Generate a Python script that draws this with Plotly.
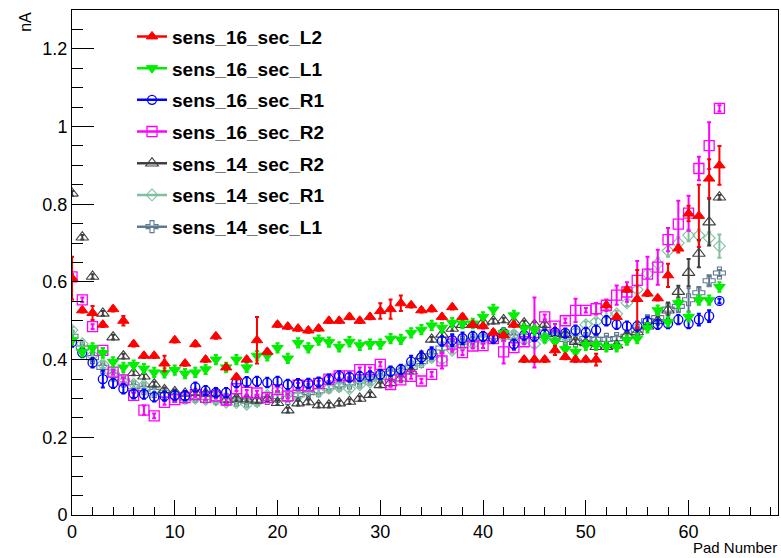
import plotly.graph_objects as go

pads = list(range(64))

# sens_16_sec_L2
l2_16 = [0.61, 0.527, 0.52, 0.49, 0.53, 0.50, 0.44, 0.41, 0.41, 0.39,
         0.45, 0.39, 0.44, 0.40, 0.46, 0.38, 0.355, 0.40, 0.45, 0.42,
         0.49, 0.485, 0.48, 0.475, 0.48, 0.50, 0.50, 0.51, 0.50, 0.51,
         0.525, 0.53, 0.545, 0.54, 0.527, 0.53, 0.51, 0.535, 0.51, 0.49,
         0.486, 0.47, 0.463, 0.49, 0.40, 0.40, 0.40, 0.424, 0.407, 0.40,
         0.40, 0.40, 0.54, 0.51, 0.58, 0.556, 0.57, 0.558, 0.617, 0.686,
         0.776, 0.77, 0.866, 0.90]
l2_16_err = [0.055, 0.006, 0.018, 0.006, 0.006, 0.012, 0.006, 0.006, 0.006, 0.02,
             0.006, 0.006, 0.006, 0.006, 0.006, 0.006, 0.006, 0.006, 0.06, 0.006,
             0.006, 0.006, 0.006, 0.006, 0.006, 0.006, 0.006, 0.006, 0.006, 0.006,
             0.02, 0.025, 0.02, 0.006, 0.006, 0.006, 0.006, 0.006, 0.006, 0.006,
             0.006, 0.006, 0.006, 0.006, 0.006, 0.006, 0.006, 0.012, 0.006, 0.006,
             0.006, 0.015, 0.006, 0.006, 0.006, 0.075, 0.006, 0.006, 0.03, 0.01,
             0.02, 0.08, 0.05, 0.05]

# sens_16_sec_L1
l1_16 = [0.45, 0.42, 0.43, 0.417, 0.394, 0.38, 0.386, 0.377, 0.367, 0.366,
         0.373, 0.364, 0.367, 0.375, 0.40, 0.38, 0.40, 0.38, 0.41, 0.41,
         0.43, 0.403, 0.443, 0.43, 0.45, 0.445, 0.433, 0.446, 0.437, 0.44,
         0.44, 0.454, 0.452, 0.469, 0.477, 0.488, 0.482, 0.495, 0.493, 0.493,
         0.51, 0.529, 0.468, 0.514, 0.48, 0.476, 0.456, 0.446, 0.427, 0.42,
         0.437, 0.437, 0.433, 0.433, 0.45, 0.454, 0.482, 0.527, 0.497, 0.545,
         0.51, 0.553, 0.553, 0.587]
l1_16_err = [0.012] * 64

# sens_16_sec_R1
r1_16 = [0.445, 0.418, 0.392, 0.35, 0.339, 0.325, 0.312, 0.311, 0.304, 0.306,
         0.308, 0.307, 0.329, 0.32, 0.315, 0.315, 0.341, 0.343, 0.344, 0.341,
         0.344, 0.336, 0.338, 0.339, 0.342, 0.35, 0.358, 0.355, 0.357, 0.358,
         0.362, 0.37, 0.375, 0.395, 0.406, 0.417, 0.448, 0.45, 0.455, 0.46,
         0.46, 0.455, 0.469, 0.44, 0.463, 0.46, 0.465, 0.47, 0.468, 0.476,
         0.47, 0.476, 0.50, 0.491, 0.486, 0.486, 0.497, 0.491, 0.493, 0.503,
         0.493, 0.503, 0.512, 0.551]
r1_16_err = [0.012, 0.012, 0.012, 0.022, 0.012, 0.012, 0.012, 0.012, 0.012, 0.012,
             0.012, 0.012, 0.012, 0.012, 0.012, 0.012, 0.012, 0.012, 0.012, 0.012,
             0.012, 0.012, 0.012, 0.012, 0.012, 0.012, 0.012, 0.012, 0.012, 0.012,
             0.012, 0.012, 0.012, 0.015, 0.015, 0.015, 0.012, 0.015, 0.015, 0.012,
             0.012, 0.012, 0.012, 0.012, 0.012, 0.012, 0.012, 0.012, 0.012, 0.012,
             0.012, 0.012, 0.012, 0.012, 0.012, 0.012, 0.012, 0.012, 0.012, 0.012,
             0.012, 0.015, 0.015, 0.006]

# sens_16_sec_R2
r2_16 = [0.613, 0.554, 0.485, 0.424, 0.368, 0.348, 0.308, 0.27, 0.255, 0.29,
         0.297, 0.302, 0.31, 0.303, 0.306, 0.296, 0.325, 0.316, 0.314, 0.302,
         0.323, 0.306, 0.334, 0.332, 0.339, 0.35, 0.358, 0.358, 0.374, 0.374,
         0.388, 0.336, 0.348, 0.357, 0.345, 0.362, 0.397, 0.44, 0.418, 0.435,
         0.436, 0.454, 0.42, 0.431, 0.446, 0.47, 0.51, 0.486, 0.50, 0.527,
         0.527, 0.531, 0.54, 0.566, 0.574, 0.604, 0.62, 0.638, 0.709, 0.749,
         0.777, 0.892, 0.951, 1.047]
r2_16_err = [0.008, 0.006, 0.006, 0.006, 0.006, 0.006, 0.006, 0.012, 0.006, 0.006,
             0.006, 0.006, 0.006, 0.006, 0.006, 0.012, 0.006, 0.006, 0.006, 0.006,
             0.006, 0.006, 0.006, 0.006, 0.006, 0.006, 0.006, 0.006, 0.006, 0.006,
             0.006, 0.006, 0.006, 0.006, 0.006, 0.006, 0.02, 0.02, 0.006, 0.006,
             0.006, 0.006, 0.03, 0.006, 0.006, 0.09, 0.006, 0.006, 0.006, 0.03,
             0.006, 0.015, 0.015, 0.025, 0.025, 0.05, 0.045, 0.045, 0.03, 0.06,
             0.045, 0.03, 0.06, 0.008]

# sens_14_sec_R2
r2_14 = [0.828, 0.715, 0.614, 0.519, 0.458, 0.409, 0.366, 0.357, 0.337, 0.322,
         0.317, 0.313, 0.315, 0.313, 0.314, 0.296, 0.30, 0.298, 0.295, 0.297,
         0.289, 0.27, 0.288, 0.291, 0.283, 0.283, 0.288, 0.292, 0.30, 0.31,
         0.335, 0.34, 0.352, 0.37, 0.41, 0.452, 0.465, 0.48, 0.49, 0.49,
         0.496, 0.499, 0.502, 0.497, 0.494, 0.49, 0.49, 0.467, 0.465, 0.446,
         0.443, 0.433, 0.433, 0.437, 0.463, 0.471, 0.486, 0.50, 0.527, 0.575,
         0.624, 0.673, 0.754, 0.818]
r2_14_err = [0.006] * 57 + [0.01, 0.02, 0.015, 0.035, 0.035, 0.06, 0.006]

# sens_14_sec_R1
r1_14 = [0.476, 0.441, 0.411, 0.388, 0.366, 0.351, 0.337, 0.334, 0.322, 0.313,
         0.306, 0.30, 0.30, 0.297, 0.296, 0.29, 0.289, 0.285, 0.291, 0.308,
         0.321, 0.312, 0.306, 0.323, 0.317, 0.326, 0.33, 0.325, 0.335, 0.342,
         0.35, 0.368, 0.362, 0.386, 0.392, 0.405, 0.40, 0.424, 0.437, 0.44,
         0.45, 0.455, 0.46, 0.465, 0.45, 0.44, 0.455, 0.469, 0.46, 0.47,
         0.49, 0.498, 0.518, 0.518, 0.546, 0.58, 0.621, 0.647, 0.68, 0.70,
         0.72, 0.72, 0.713, 0.692]
r1_14_err = [0.008] * 56 + [0.012, 0.015, 0.015, 0.015, 0.015, 0.015, 0.015, 0.03]

# sens_14_sec_L1
l1_14 = [0.46, 0.43, 0.405, 0.38, 0.36, 0.345, 0.33, 0.325, 0.318, 0.31,
         0.305, 0.302, 0.305, 0.303, 0.30, 0.298, 0.295, 0.293, 0.296, 0.30,
         0.305, 0.30, 0.31, 0.315, 0.32, 0.33, 0.335, 0.34, 0.345, 0.35,
         0.355, 0.365, 0.37, 0.38, 0.395, 0.41, 0.43, 0.44, 0.445, 0.45,
         0.455, 0.46, 0.462, 0.458, 0.46, 0.462, 0.471, 0.46, 0.452, 0.448,
         0.454, 0.452, 0.452, 0.454, 0.46, 0.476, 0.50, 0.508, 0.53, 0.537,
         0.554, 0.572, 0.603, 0.623]
l1_14_err = [0.008] * 56 + [0.012, 0.012, 0.015, 0.015, 0.03, 0.015, 0.012, 0.008]

series = [
    ("sens_16_sec_L2", l2_16, l2_16_err, "#ff0000", "triangle-up", 1.0, 10),
    ("sens_16_sec_L1", l1_16, l1_16_err, "#00ee00", "triangle-down", 1.0, 10),
    ("sens_16_sec_R1", r1_16, r1_16_err, "#0000ff", "circle-open", 1.3, 9),
    ("sens_16_sec_R2", r2_16, r2_16_err, "#ff00ff", "square-open", 1.3, 10),
    ("sens_14_sec_R2", r2_14, r2_14_err, "#404040", "triangle-up-open", 1.1, 11),
    ("sens_14_sec_R1", r1_14, r1_14_err, "#80c0a0", "diamond-open", 1.1, 9),
    ("sens_14_sec_L1", l1_14, l1_14_err, "#607890", "cross-open", 1.1, 10),
]

fig = go.Figure()

# data points with error bars (drawn in reverse so the 16-sector sets sit on top)
for name, vals, errs, color, symbol, lw, size in reversed(series):
    fig.add_trace(go.Scatter(
        x=pads, y=vals, mode="markers", name=name, showlegend=False,
        marker=dict(symbol=symbol, color=color, size=size,
                    line=dict(color=color, width=lw)),
        error_y=dict(type="data", array=errs, visible=True,
                     color=color, thickness=2, width=2),
    ))

# legend entries: line + marker
for i, (name, vals, errs, color, symbol, lw, size) in enumerate(series):
    fig.add_trace(go.Scatter(
        x=[None], y=[None], mode="lines+markers", name=name,
        legendgroup=f"g{i}",
        line=dict(color=color, width=2.5),
        marker=dict(symbol=symbol, color=color, size=size,
                    line=dict(color=color, width=lw)),
    ))

tick_font = dict(family="Liberation Sans, Arial, sans-serif", size=18, color="black")

fig.update_layout(
    width=781, height=558,
    margin=dict(l=72, r=3, t=10, b=43),
    paper_bgcolor="white", plot_bgcolor="white",
    showlegend=True,
    legend=dict(
        x=0.085, y=0.985, xanchor="left", yanchor="top",
        bgcolor="rgba(0,0,0,0)", borderwidth=0,
        font=dict(family="Liberation Sans, Arial, sans-serif", size=19, color="black",
                  weight="bold"),
        tracegroupgap=4, traceorder="grouped",
    ),
    xaxis=dict(
        range=[0, 68.7], showgrid=False, zeroline=False,
        showline=True, linecolor="black", linewidth=1, mirror=True,
        ticks="inside", ticklen=15, tickwidth=1, tickcolor="black",
        tick0=0, dtick=10, tickfont=tick_font,
        minor=dict(ticks="inside", ticklen=8, dtick=2, tickcolor="black", showgrid=False),
    ),
    yaxis=dict(
        range=[0, 1.3], showgrid=False, zeroline=False,
        showline=True, linecolor="black", linewidth=1, mirror=True,
        ticks="inside", ticklen=22, tickwidth=1, tickcolor="black",
        tick0=0, dtick=0.2, tickfont=tick_font,
        minor=dict(ticks="inside", ticklen=11, dtick=0.05, tickcolor="black", showgrid=False),
    ),
    annotations=[
        dict(text="Pad Number", xref="paper", yref="paper", x=1.0, y=-0.083,
             xanchor="right", yanchor="bottom", showarrow=False, borderpad=0,
             font=dict(family="Liberation Sans, Arial, sans-serif", size=15, color="black")),
        dict(text="nA", xref="paper", yref="paper", x=-0.052, y=1.0,
             xanchor="right", yanchor="top", showarrow=False, textangle=-90,
             font=dict(family="Liberation Sans, Arial, sans-serif", size=16, color="black")),
    ],
)

fig.write_html("out.html")
